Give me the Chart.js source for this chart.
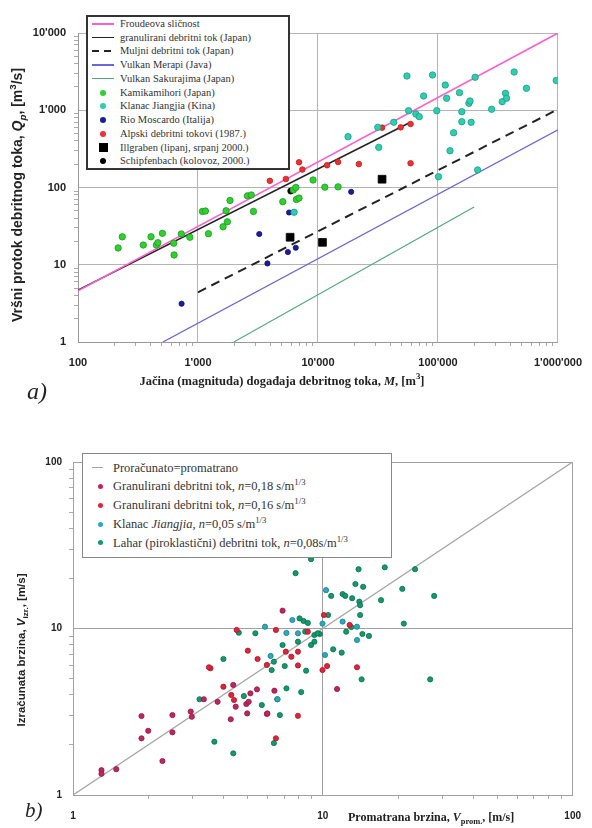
<!DOCTYPE html>
<html>
<head>
<meta charset="utf-8">
<script src="https://cdn.jsdelivr.net/npm/chart.js@4.4.1/dist/chart.umd.min.js"></script>
<style>
  html, body { margin: 0; padding: 0; background: #fff; }
  body { width: 592px; height: 828px; position: relative; overflow: hidden; }
  .panel { position: absolute; left: 0; width: 592px; }
  #panelA { top: 0; height: 415px; }
  #panelB { top: 415px; height: 413px; }
  .legend { position: absolute; background: #fff; font-family: "Liberation Serif", serif; color: #333; }
  .legend .row { position: relative; white-space: nowrap; }
  .legend .mark { position: absolute; }
  .legend .label { position: absolute; }
  #legendA { left: 86px; top: 15px; width: 200px; height: 151px; border: 2px solid #333; font-size: 10.5px; }
  #legendA .row { height: 13.74px; line-height: 13.74px; }
  #legendA .label { left: 32px; top: 0; }
  #legendB { left: 82px; top: 453px; width: 308px; height: 94px; padding: 4.5px 0; border: 1px solid #888; font-size: 12.5px; }
  #legendB .row { height: 18.75px; line-height: 18.75px; }
  #legendB .label { left: 30px; top: 0; }
  .title { position: absolute; white-space: nowrap; color: #222; }
  .title.sans { font-family: "Liberation Sans", Arial, sans-serif; font-weight: bold; }
  .title.serif { font-family: "Liberation Serif", serif; font-weight: bold; }
  .title.rot { transform: translate(-50%, -50%) rotate(-90deg); }
  .title.mid { transform: translate(-50%, -50%); }
  .title sub, .title sup, .legend sup { font-size: 70%; line-height: 0; }
  .panelLabel { position: absolute; font-family: "Liberation Serif", serif; font-style: italic; color: #222; }
</style>
</head>
<body>
<div class="panel" id="panelA"><canvas id="chartA"></canvas></div>
<div class="panel" id="panelB"><canvas id="chartB"></canvas></div>

<div class="legend" id="legendA"></div>
<div class="legend" id="legendB"></div>

<div class="title sans rot" style="left:17px; top:195px; font-size:14px;">Vršni protok debritnog toka, <i>Q<sub>p</sub></i>, [m<sup>3</sup>/s]</div>
<div class="title serif mid" style="left:282px; top:381px; font-size:12.5px;">Jačina (magnituda) događaja debritnog toka, <i>M</i>, [m<sup>3</sup>]</div>
<div class="panelLabel" style="left:27px; top:378px; font-size:24px;">a)</div>

<div class="title sans rot" style="left:21px; top:650px; font-size:11.5px;">Izračunata brzina, <i>V</i><sub>izr.</sub>, [m/s]</div>
<div class="title serif" style="left:348px; top:810px; font-size:12px;">Promatrana brzina, <i>V</i><sub>prom.</sub>, [m/s]</div>
<div class="panelLabel" style="left:25px; top:798px; font-size:21px;">b)</div>

<script>
// ---------- panel a) : peak discharge vs. event magnitude ----------
const massTicks = [100, 1000, 10000, 100000, 1000000];
const flowTicks = [1, 10, 100, 1000, 10000];

// relations: [M, Qp] at each end
const froudeLine = [[100, 4.6], [1000000, 10000]];
const granularLine = [[100, 4.7], [59000, 700]];
const muddyLine = [[1000, 4.4], [1000000, 1030]];
const merapiLine = [[510, 1], [1000000, 560]];
const sakurajimaLine = [[1990, 1], [200000, 56]];

// observations [M, Qp]
const kamikamihori = [[216, 16.5], [234, 23], [350, 18], [406, 23], [450, 18], [463, 19.3], [505, 25.5], [627, 19], [632, 13.4],
  [726, 25], [855, 22.7], [1089, 49], [1153, 49.6], [1222, 25.2], [1618, 31], [1714, 50], [1757, 36], [1849, 68], [2580, 78],
  [2780, 80], [2898, 49], [5090, 65.5], [6225, 93], [6530, 100], [6610, 70], [6950, 73], [9100, 125], [11400, 101], [14700, 102]];
const jiangjia = [[6320, 47.8], [17800, 455], [31500, 601], [32100, 331], [42800, 698], [55100, 2775], [56900, 987], [65400, 894],
  [69800, 826], [75900, 1530], [90000, 2860], [97700, 987], [101000, 138], [115000, 2120], [118000, 1430], [126000, 299],
  [135000, 512], [151000, 1690], [158000, 958], [158000, 711], [181000, 1230], [185000, 1318], [189000, 698], [204000, 2670],
  [214000, 169], [280000, 1029], [343000, 1290], [365000, 1657], [373000, 1430], [431000, 3126], [546000, 1923], [968000, 2427]];
const rioMoscardo = [[730, 3.13], [3240, 25], [3790, 10.4], [5610, 14.6], [5740, 47.5], [6530, 16.6], [18900, 88]];
const alpine1987 = [[3970, 122], [5400, 129], [6950, 212], [7410, 171], [11900, 194], [14700, 214], [21900, 201], [34200, 595],
  [48900, 601], [59100, 664], [59100, 206]];
const illgraben = [[5860, 22.7], [10900, 19.5], [34200, 128]];
const schipfenbach = [[5930, 90]];

// ---------- panel b) : calculated vs. observed velocity ----------
const speedTicks = [1, 10, 100];
const equalityLine = [[1, 1], [100, 100]];

// [V observed, V calculated]
const granular018 = [[1.30, 1.41], [1.30, 1.34], [1.49, 1.43], [1.88, 2.98], [2.0, 2.43], [1.88, 2.19], [2.28, 1.60], [2.50, 3.02],
  [2.50, 2.38], [2.96, 3.17], [2.99, 2.95], [3.34, 3.76], [3.79, 3.63], [4.28, 2.85], [4.38, 4.58], [4.48, 3.39], [4.94, 3.52],
  [5.05, 3.63], [5.13, 4.08], [4.98, 3.09], [5.45, 4.31], [6.40, 4.23], [6.0, 3.09], [11.4, 4.33], [6.90, 12.8]];
const granular016 = [[3.55, 5.77], [3.50, 5.85], [4.0, 4.47], [4.30, 3.99], [4.41, 3.72], [4.52, 9.8], [5.01, 7.36], [5.48, 6.56],
  [5.97, 6.04], [6.49, 9.8], [7.11, 7.26], [7.48, 6.77], [7.95, 7.26], [7.95, 6.0], [7.95, 2.99], [5.97, 3.07], [6.49, 2.19],
  [8.71, 9.57], [10.1, 12.05], [9.97, 5.63], [10.4, 5.95], [12.8, 10.5], [13.7, 5.85]];
const jiangjiaSpeed = [[5.87, 10.25], [7.15, 9.40], [7.95, 9.36], [6.59, 3.76], [6.18, 6.84], [9.97, 10.7], [10.2, 6.93],
  [10.3, 17.0], [12.0, 11.0], [13.7, 10.25], [13.7, 8.53], [7.55, 11.25]];
const lahar = [[8.97, 26.1], [7.78, 21.5], [13.9, 22.7], [17.7, 23.3], [23.4, 22.7], [13.5, 18.5], [14.5, 17.8], [20.8, 17.3],
  [27.9, 15.7], [10.8, 15.7], [12.0, 16.1], [12.3, 15.7], [13.1, 15.2], [14.0, 14.5], [14.1, 13.8], [17.1, 14.8], [14.1, 12.05],
  [21.1, 10.7], [10.5, 12.05], [8.07, 11.5], [8.37, 11.1], [8.71, 10.8], [13.0, 10.2], [14.4, 9.27], [15.3, 9.02], [12.4, 9.57],
  [9.73, 9.27], [9.25, 9.14], [8.5, 9.57], [5.37, 9.36], [4.61, 9.44], [9.25, 8.33], [8.97, 7.96], [7.95, 8.33], [6.90, 7.96],
  [11.0, 7.50], [11.9, 7.16], [4.0, 6.56], [6.37, 6.32], [6.24, 5.63], [7.04, 5.95], [8.57, 5.58], [14.3, 4.95], [26.9, 4.95],
  [7.15, 4.37], [8.19, 4.15], [6.57, 3.76], [5.70, 3.47], [6.73, 3.02], [4.83, 3.93], [3.21, 3.76], [3.68, 2.09], [6.37, 2.05],
  [4.38, 1.78], [9.53, 9.36]];

function toXY(pairs) {
  return pairs.map(p => ({ x: p[0], y: p[1] }));
}

function withThousands(v) {
  return String(v).replace(/\B(?=(\d{3})+(?!\d))/g, "'");
}

// majors plus 2..9 of every decade, the minors only carry a small tick mark
function decadeTicks(majors) {
  const out = [];
  majors.forEach((m, i) => {
    out.push(m);
    if (i < majors.length - 1) {
      for (let k = 2; k < 10; k++) out.push(m * k);
    }
  });
  return out;
}

function logAxis(majors, opts) {
  return {
    type: 'logarithmic',
    min: majors[0],
    max: majors[majors.length - 1],
    afterBuildTicks: scale => {
      scale.ticks = decadeTicks(majors).map(v => ({ value: v }));
    },
    afterFit: scale => {
      if (scale.isHorizontal()) scale.height = opts.size;
      else scale.width = opts.size;
    },
    ticks: {
      autoSkip: false,
      maxRotation: 0,
      minRotation: 0,
      padding: opts.pad,
      color: '#222',
      font: { family: 'Liberation Sans', weight: 'bold', size: opts.fontSize },
      callback: v => majors.includes(v) ? opts.format(v) : ''
    },
    grid: {
      color: c => (c.tick && majors.includes(c.tick.value)) ? opts.gridColor : 'transparent',
      tickColor: c => (c.tick && majors.includes(c.tick.value)) ? 'transparent' : '#aaa',
      tickLength: 4,
      lineWidth: 1
    },
    border: { color: opts.borderColor, width: 1 }
  };
}

function lineSet(label, pairs, color, width, dash) {
  return {
    label: label,
    data: toXY(pairs),
    showLine: true,
    borderColor: color,
    backgroundColor: color,
    borderWidth: width,
    borderDash: dash || [],
    pointRadius: 0,
    order: 2
  };
}

function pointSet(label, pairs, fill, edge, radius, style) {
  return {
    label: label,
    data: toXY(pairs),
    showLine: false,
    pointStyle: style || 'circle',
    pointRadius: radius,
    pointBackgroundColor: fill,
    pointBorderColor: edge,
    pointBorderWidth: 0.8,
    borderColor: edge,
    backgroundColor: fill,
    order: 1
  };
}

function buildLegend(chart, el, geo) {
  chart.data.datasets.forEach(ds => {
    const row = document.createElement('div');
    row.className = 'row';
    const mark = document.createElement('span');
    mark.className = 'mark';
    if (ds.showLine) {
      const h = Math.max(1, ds.borderWidth);
      mark.style.left = geo.lineLeft + 'px';
      mark.style.width = geo.lineWidth + 'px';
      mark.style.height = h + 'px';
      mark.style.top = 'calc(50% - ' + (h / 2) + 'px)';
      if (ds.borderDash.length) {
        mark.style.background = 'repeating-linear-gradient(90deg, ' + ds.borderColor + ' 0 7px, transparent 7px 12px)';
      } else {
        mark.style.background = ds.borderColor;
      }
    } else {
      const size = ds.pointStyle === 'rect' ? geo.square : geo.dot;
      mark.style.left = (geo.dotCenter - size / 2) + 'px';
      mark.style.top = 'calc(50% - ' + (size / 2) + 'px)';
      mark.style.width = size + 'px';
      mark.style.height = size + 'px';
      mark.style.background = ds.pointBackgroundColor;
      mark.style.borderRadius = ds.pointStyle === 'rect' ? '0' : '50%';
    }
    const text = document.createElement('span');
    text.className = 'label';
    text.innerHTML = ds.legendHtml || ds.label;
    row.appendChild(mark);
    row.appendChild(text);
    el.appendChild(row);
  });
}

const chartA = new Chart(document.getElementById('chartA'), {
  type: 'scatter',
  data: {
    datasets: [
      lineSet('Froudeova sličnost', froudeLine, '#ff5fcf', 1.6),
      lineSet('granulirani debritni tok (Japan)', granularLine, '#222', 1.6),
      lineSet('Muljni debritni tok (Japan)', muddyLine, '#222', 2, [9, 6]),
      lineSet('Vulkan Merapi (Java)', merapiLine, '#6b66d8', 1.3),
      lineSet('Vulkan Sakurajima (Japan)', sakurajimaLine, '#4fa87c', 1.1),
      pointSet('Kamikamihori (Japan)', kamikamihori, '#2fd02f', '#1f9a1f', 3.2),
      pointSet('Klanac Jiangjia (Kina)', jiangjia, '#2ccfae', '#1d9c86', 3.2),
      pointSet('Rio Moscardo (Italija)', rioMoscardo, '#1c1ca0', '#10106a', 2.6),
      pointSet('Alpski debritni tokovi (1987.)', alpine1987, '#f03030', '#c02020', 2.8),
      pointSet('Illgraben (lipanj, srpanj 2000.)', illgraben, '#000', '#000', 5.5, 'rect'),
      pointSet('Schipfenbach (kolovoz, 2000.)', schipfenbach, '#000', '#000', 3)
    ]
  },
  options: {
    responsive: true,
    maintainAspectRatio: false,
    animation: false,
    layout: { padding: { left: 0, top: 33, right: 32, bottom: 0 } },
    plugins: { legend: { display: false }, tooltip: { enabled: false } },
    scales: {
      x: logAxis(massTicks, { size: 73, pad: 10, fontSize: 11, format: withThousands, gridColor: '#b4b4b4', borderColor: '#999' }),
      y: logAxis(flowTicks, { size: 78, pad: 8, fontSize: 11, format: withThousands, gridColor: '#b4b4b4', borderColor: '#999' })
    }
  }
});

const chartB = new Chart(document.getElementById('chartB'), {
  type: 'scatter',
  data: {
    datasets: [
      lineSet('Proračunato=promatrano', equalityLine, '#a8a8a8', 1.4),
      Object.assign(pointSet('Granulirani debritni tok, n=0,18 s/m1/3', granular018, '#c2245e', '#8e1a48', 2.6),
        { legendHtml: 'Granulirani debritni tok, <i>n</i>=0,18 s/m<sup>1/3</sup>' }),
      Object.assign(pointSet('Granulirani debritni tok, n=0,16 s/m1/3', granular016, '#e3213a', '#a8182a', 2.6),
        { legendHtml: 'Granulirani debritni tok, <i>n</i>=0,16 s/m<sup>1/3</sup>' }),
      Object.assign(pointSet('Klanac Jiangjia, n=0,05 s/m1/3', jiangjiaSpeed, '#2aa9bf', '#1b7f90', 2.6),
        { legendHtml: 'Klanac <i>Jiangjia</i>, <i>n</i>=0,05 s/m<sup>1/3</sup>' }),
      Object.assign(pointSet('Lahar (piroklastični) debritni tok, n=0,08s/m1/3', lahar, '#119a6c', '#0b6e4c', 2.6),
        { legendHtml: 'Lahar (piroklastični) debritni tok, <i>n</i>=0,08s/m<sup>1/3</sup>' })
    ]
  },
  options: {
    responsive: true,
    maintainAspectRatio: false,
    animation: false,
    layout: { padding: { left: 0, top: 47, right: 11, bottom: 0 } },
    plugins: { legend: { display: false }, tooltip: { enabled: false } },
    scales: {
      x: logAxis(speedTicks, { size: 33, pad: 11, fontSize: 10, format: String, gridColor: '#a0a0a0', borderColor: '#a0a0a0' }),
      y: logAxis(speedTicks, { size: 73, pad: 7, fontSize: 10, format: String, gridColor: '#a0a0a0', borderColor: '#a0a0a0' })
    }
  }
});

buildLegend(chartA, document.getElementById('legendA'), { lineLeft: 4, lineWidth: 22, dotCenter: 15, dot: 6, square: 9 });
buildLegend(chartB, document.getElementById('legendB'), { lineLeft: 9, lineWidth: 11, dotCenter: 17, dot: 5, square: 7 });
// the 1:1 line is a thin short dash in the original legend
document.querySelector('#legendB .row .mark').style.height = '1px';
</script>
</body>
</html>
